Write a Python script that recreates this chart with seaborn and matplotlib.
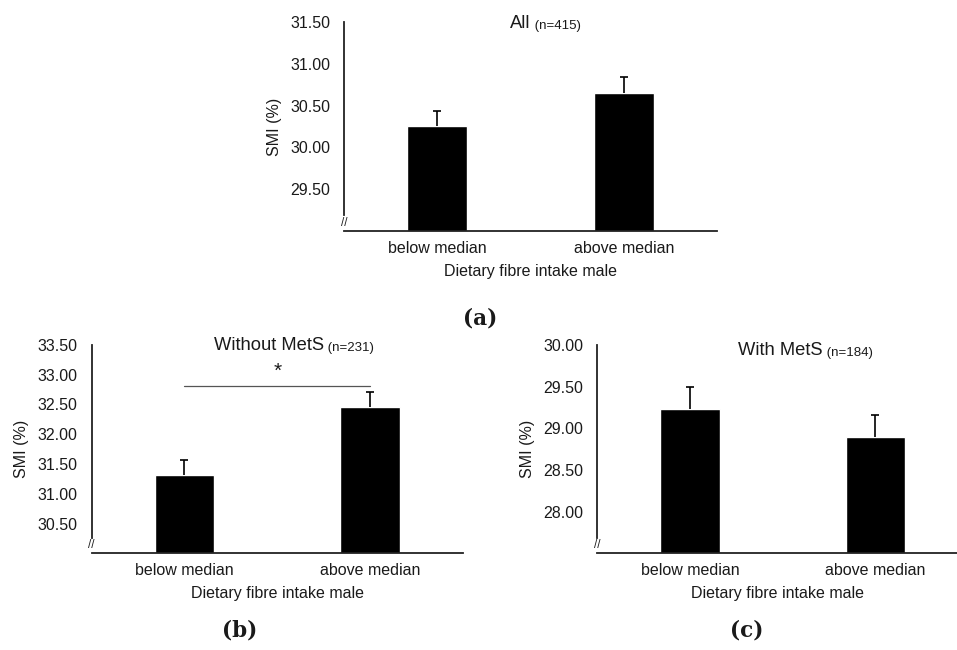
import numpy as np
import pandas as pd
import seaborn as sns
import matplotlib.pyplot as plt

# values (mean SMI and upper SE)
categories = ['below median', 'above median']

smi_all = [30.26, 30.65]
err_all = [0.18, 0.19]

smi_without = [31.31, 32.45]
err_without = [0.26, 0.26]

smi_with = [29.23, 28.90]
err_with = [0.27, 0.26]

ticks_all = [29.5, 30.0, 30.5, 31.0, 31.5]
ticks_without = [30.5, 31.0, 31.5, 32.0, 32.5, 33.0, 33.5]
ticks_with = [28.0, 28.5, 29.0, 29.5, 30.0]

sig_line_y = 32.81
sig_star_y = 33.06

sns.set_style('white')
plt.rcParams['font.family'] = ['Liberation Sans', 'DejaVu Sans']
txt_col = '#1a1a1a'

fig = plt.figure(figsize=(9.57, 6.5), dpi=100)
ax_a = fig.add_axes([0.3595, 0.6446, 0.3897, 0.3215])
ax_b = fig.add_axes([0.0958, 0.1488, 0.3878, 0.3205])
ax_c = fig.add_axes([0.6241, 0.1488, 0.3759, 0.3205])


def draw_panel(ax, vals, errs, ylim, ticks, title, n_txt, title_x, title_y, xmax=1.5):
    df = pd.DataFrame({'group': categories, 'smi': vals})
    sns.barplot(data=df, x='group', y='smi', ax=ax, color='black',
                saturation=1, width=0.32, errorbar=None)
    xs = np.arange(len(vals))
    tops = np.array(vals) + np.array(errs)
    # upper-only error bars, cap only at the top
    ax.errorbar(x=xs, y=vals, yerr=[[0] * len(errs), errs],
                fmt='none', ecolor='black', elinewidth=1.2, capsize=0)
    ax.scatter(xs, tops, marker='_', s=40, color='black', linewidths=1.2,
               zorder=3)
    ax.set_ylim(*ylim)
    ax.set_xlim(-0.5, xmax)
    ax.set_yticks(ticks)
    ax.set_yticklabels([f'{t:.2f}' for t in ticks])
    ax.tick_params(axis='both', length=0, labelsize=11.5, colors=txt_col)
    ax.tick_params(axis='y', pad=10)
    ax.tick_params(axis='x', pad=7)
    ax.set_xlabel('Dietary fibre intake male', fontsize=11.5, color=txt_col,
                  labelpad=6)
    ax.set_ylabel('SMI (%)', fontsize=11.5, color=txt_col, labelpad=6)
    for s in ['top', 'right']:
        ax.spines[s].set_visible(False)
    for s in ['left', 'bottom']:
        ax.spines[s].set_color('#222222')
        ax.spines[s].set_linewidth(1.3)
    # axis break: spine stops short of the baseline
    span = ylim[1] - ylim[0]
    ax.spines['left'].set_bounds(ylim[0] + 0.075 * span, ylim[1])
    ax.text(0, 0.04, '//', transform=ax.transAxes, ha='center', va='center',
            fontsize=8.5, color='#222222')
    t = ax.text(title_x, title_y, title, transform=ax.transAxes, ha='left',
                va='center', fontsize=13.2, color=txt_col)
    ax.annotate(' ' + n_txt, xy=(1, 0), xycoords=t, ha='left', va='bottom',
                fontsize=9.5, color=txt_col)


draw_panel(ax_a, smi_all, err_all, (29.0, 31.5), ticks_all,
           'All', '(n=415)', 0.445, 0.995)
draw_panel(ax_b, smi_without, err_without, (30.0, 33.5), ticks_without,
           'Without MetS', '(n=231)', 0.33, 0.995)
draw_panel(ax_c, smi_with, err_with, (27.5, 30.0), ticks_with,
           'With MetS', '(n=184)', 0.391, 0.972, xmax=1.44)

# significance bracket in panel b
ax_b.plot([0, 1], [sig_line_y, sig_line_y], color='#555555', lw=0.9)
ax_b.text(0.5, sig_star_y, '*', ha='center', va='center', fontsize=15,
          color=txt_col)

# panel letters
for lbl, x, y in [('(a)', 480, 318), ('(b)', 240, 630), ('(c)', 747, 630)]:
    fig.text(x / 957, 1 - y / 650, lbl, ha='center', va='center',
             fontsize=15.5, fontweight='bold', family='DejaVu Serif',
             color=txt_col)

fig.savefig('out.png', dpi=100)
